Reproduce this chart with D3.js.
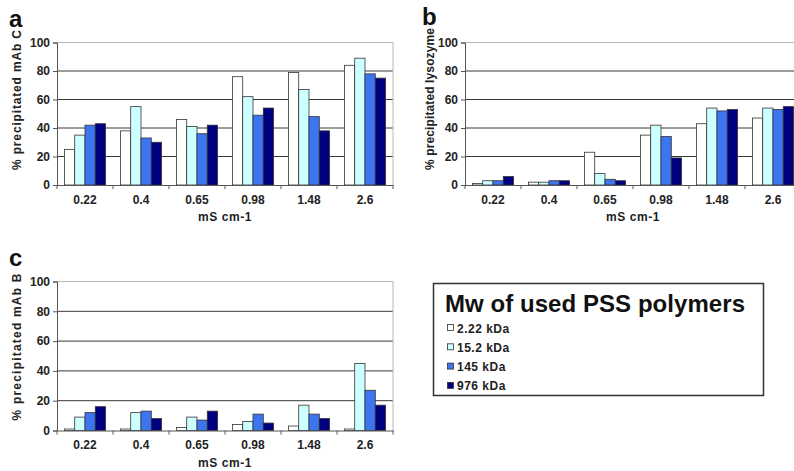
<!DOCTYPE html>
<html>
<head>
<meta charset="utf-8">
<script src="https://cdn.jsdelivr.net/npm/d3@7"></script>
<style>
  body { margin: 0; background: #fff; }
  svg { display: block; font-family: "Liberation Sans", Arial, sans-serif; }
</style>
</head>
<body>
<script>
const categories = ["0.22", "0.4", "0.65", "0.98", "1.48", "2.6"];
const seriesNames = ["2.22 kDa", "15.2 kDa", "145 kDa", "976 kDa"];
const seriesColors = ["#ffffff", "#ccffff", "#3d74f0", "#000080"];
const yTicks = [0, 20, 40, 60, 80, 100];

// values per category, one number per series
const mAbC = [
  [25, 35, 42, 43],
  [38, 55, 33, 30],
  [46, 41, 36, 42],
  [76, 62, 49, 54],
  [79, 67, 48, 38],
  [84, 89, 78, 75]
];
const lysozyme = [
  [1, 3, 3, 6],
  [2, 2, 3, 3],
  [23, 8, 4, 3],
  [35, 42, 34, 19],
  [43, 54, 52, 53],
  [47, 54, 53, 55]
];
const mAbB = [
  [1, 9, 12, 16],
  [1, 12, 13, 8],
  [2, 9, 7, 13],
  [4, 6, 11, 5],
  [3, 17, 11, 8],
  [1, 45, 27, 17]
];

const svg = d3.select("body").append("svg")
    .attr("width", 794)
    .attr("height", 471);

function panel(opt) {
    const x = d3.scaleBand().domain(categories).range([opt.left, opt.left + 336]);
    const xs = d3.scaleBand().domain(d3.range(4)).range([0, x.bandwidth()])
        .paddingInner(0).paddingOuter(0.72);
    const y = d3.scaleLinear().domain([0, 100]).range([opt.bottom, opt.top]);
    const g = svg.append("g");

    // grid lines
    g.selectAll(".grid").data(yTicks.filter(d => d > 0)).enter()
        .append("line")
        .attr("x1", opt.left).attr("x2", opt.left + 336)
        .attr("y1", d => y(d)).attr("y2", d => y(d))
        .attr("stroke", d => d === 100 ? "#b8b8b8" : "#222")
        .attr("stroke-width", d => d === 100 ? 1 : 0.9);
    g.append("line")
        .attr("x1", opt.left + 336).attr("x2", opt.left + 336)
        .attr("y1", opt.top).attr("y2", opt.bottom)
        .attr("stroke", "#b8b8b8");

    // bars
    const grp = g.selectAll(".grp").data(opt.data).enter()
        .append("g")
        .attr("transform", (d, i) => `translate(${x(categories[i])},0)`);
    grp.selectAll("rect").data(d => d).enter()
        .append("rect")
        .attr("x", (d, j) => xs(j))
        .attr("width", xs.bandwidth())
        .attr("y", d => y(d))
        .attr("height", d => opt.bottom - y(d))
        .attr("fill", (d, j) => seriesColors[j])
        .attr("stroke", "#333")
        .attr("stroke-width", 0.8);

    // axes
    const ya = g.append("g")
        .attr("transform", `translate(${opt.left},0)`)
        .call(d3.axisLeft(y).tickValues(yTicks).tickSize(4).tickPadding(3));
    ya.select(".domain").attr("stroke", "#555");
    ya.selectAll(".tick line").attr("stroke", "#555");
    ya.selectAll("text").attr("font-size", 12).attr("font-weight", "bold").attr("fill", "#222");

    const xa = g.append("g")
        .attr("transform", `translate(0,${opt.bottom})`)
        .call(d3.axisBottom(x).tickSize(0).tickPadding(10));
    xa.select(".domain").attr("stroke", "#555");
    xa.selectAll("text").attr("font-size", 12).attr("font-weight", "bold").attr("fill", "#222");
    xa.selectAll(".sep").data(d3.range(7)).enter()
        .append("line")
        .attr("x1", i => opt.left + i * x.bandwidth())
        .attr("x2", i => opt.left + i * x.bandwidth())
        .attr("y1", 0).attr("y2", 4)
        .attr("stroke", "#555");

    svg.append("text")
        .attr("x", opt.left + 168).attr("y", opt.bottom + 36)
        .attr("text-anchor", "middle")
        .attr("font-size", 12).attr("font-weight", "bold").attr("fill", "#222")
        .attr("letter-spacing", 0.6)
        .text("mS cm-1");

    svg.append("text")
        .attr("transform", `translate(${opt.ylabelX},${opt.ylabelY}) rotate(-90)`)
        .attr("text-anchor", "middle")
        .attr("font-size", 12).attr("font-weight", "bold").attr("fill", "#222")
        .attr("textLength", opt.ylabelLen).attr("lengthAdjust", "spacing")
        .text(opt.ylabel);

    svg.append("text")
        .attr("x", opt.letterX).attr("y", opt.letterY)
        .attr("font-size", 24).attr("font-weight", "bold").attr("fill", "#111")
        .text(opt.letter);
}

panel({ data: mAbC, left: 57, top: 42.5, bottom: 185, ylabel: "% precipitated mAb C",
        ylabelX: 21, ylabelY: 100, ylabelLen: 140, letter: "a", letterX: 9, letterY: 27 });
panel({ data: lysozyme, left: 465, top: 42.5, bottom: 185, ylabel: "% precipitated lysozyme",
        ylabelX: 434, ylabelY: 99, ylabelLen: 142, letter: "b", letterX: 422, letterY: 25 });
panel({ data: mAbB, left: 57, top: 281.5, bottom: 430.5, ylabel: "% precipitated mAb B",
        ylabelX: 21, ylabelY: 347, ylabelLen: 147, letter: "c", letterX: 9, letterY: 266 });

// legend
const lg = svg.append("g");
lg.append("rect")
    .attr("x", 433.5).attr("y", 283.5).attr("width", 330).attr("height", 112)
    .attr("fill", "#fff").attr("stroke", "#333").attr("stroke-width", 1.5);
lg.append("text")
    .attr("x", 445).attr("y", 312)
    .attr("font-size", 24).attr("font-weight", "bold").attr("fill", "#111")
    .attr("textLength", 300).attr("lengthAdjust", "spacing")
    .text("Mw of used PSS polymers");
const item = lg.selectAll(".item").data(seriesNames).enter()
    .append("g")
    .attr("transform", (d, i) => `translate(447,${328 + i * 19.3})`);
item.append("rect")
    .attr("x", 0.5).attr("y", -3.5).attr("width", 6).attr("height", 6)
    .attr("fill", (d, i) => seriesColors[i])
    .attr("stroke", "#333").attr("stroke-width", 0.8);
item.append("text")
    .attr("x", 10).attr("y", 4.5)
    .attr("font-size", 12).attr("font-weight", "bold").attr("fill", "#222")
    .attr("letter-spacing", 0.5)
    .text(d => d);
</script>
</body>
</html>
